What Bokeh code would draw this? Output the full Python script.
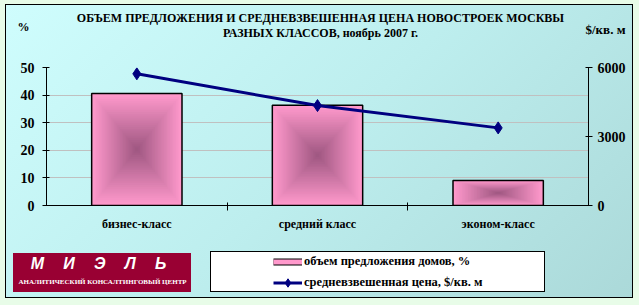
from bokeh.plotting import figure
from bokeh.layouts import column
from bokeh.models import Range1d, LinearAxis, FixedTicker, Legend, LegendItem, Label, Grid
from bokeh.embed import file_html
from bokeh.resources import INLINE

# ---------------- data ----------------
categories = ["бизнес-класс", "средний класс", "эконом-класс"]
supply_share = [40.6, 36.3, 9.1]          # объем предложения домов, %
avg_price = [5725, 4345, 3375]            # средневзвешенная цена, $/кв. м
left_ticks = [0, 10, 20, 30, 40, 50]
right_ticks = [0, 3000, 6000]
title_lines = ["ОБЪЕМ ПРЕДЛОЖЕНИЯ И СРЕДНЕВЗВЕШЕННАЯ ЦЕНА НОВОСТРОЕК МОСКВЫ",
               "РАЗНЫХ КЛАССОВ, ноябрь 2007 г."]
left_unit = "%"
right_unit = "$/кв. м"
series_names = ["объем предложения домов, %", "средневзвешенная цена, $/кв. м"]
logo_name = "М\u2003\u2009И\u2003\u2009Э\u2003\u2009Л\u2003\u2009Ь"
logo_sub = "АНАЛИТИЧЕСКИЙ КОНСАЛТИНГОВЫЙ ЦЕНТР"

# ---------------- layout ----------------
W = 639
H_MAIN, H_BOT = 245, 60
L, R, T, B = 46, 51, 67, 40
FONT = "Liberation Serif"
NAVY = "#000080"
PINK = "#ff99cc"


def page_background(dy):
    """CSS background of the whole 639x305 page, seen from an element that starts at page y=dy."""
    def at(x, y, w, h, img):
        return f"{img} {x}px {y - dy}px / {w}px {h}px no-repeat"
    return ", ".join([
        at(211, 252, 333, 39, "linear-gradient(#ffffff,#ffffff)"),
        at(210, 251, 335, 41, "linear-gradient(#000000,#000000)"),
        at(13, 253, 178, 39, "linear-gradient(#990033,#990033)"),
        at(6, 5, 626, 292, "linear-gradient(135deg, #cffdfd 0%, #bdeeee 50%, #abd9d9 100%)"),
        at(5, 4, 628, 294, "linear-gradient(#000000,#000000)"),
        "#e8fce8",
    ])


xs = [i + 0.5 for i in range(len(categories))]
bounds = [i for i in range(1, len(categories))]

p = figure(width=W, height=H_MAIN, output_backend="svg", toolbar_location=None,
           x_range=Range1d(0, len(categories)), y_range=Range1d(0, 50),
           x_axis_type=None, y_axis_type=None,
           min_border_left=L, min_border_right=R, min_border_top=T, min_border_bottom=B)
p.extra_y_ranges = {"price": Range1d(0, 6000)}
p.outline_line_color = None
p.border_fill_alpha = 0
p.background_fill_alpha = 0
p.styles = {"background": page_background(0)}


def style_axis(ax, size="14px"):
    ax.axis_line_color = "black"
    ax.major_tick_line_color = "black"
    ax.major_tick_in = 3
    ax.major_tick_out = 4
    ax.minor_tick_line_color = None
    ax.major_label_text_font = FONT
    ax.major_label_text_font_style = "bold"
    ax.major_label_text_font_size = size
    ax.major_label_text_color = "black"


yl = LinearAxis(ticker=FixedTicker(ticks=left_ticks))
style_axis(yl)
yl.major_label_standoff = 8
p.add_layout(yl, "left")

yr = LinearAxis(y_range_name="price", ticker=FixedTicker(ticks=right_ticks))
style_axis(yr)
yr.major_label_standoff = 5
p.add_layout(yr, "right")

xb = LinearAxis(ticker=FixedTicker(ticks=xs, minor_ticks=bounds),
                major_label_overrides={x: c for x, c in zip(xs, categories)})
style_axis(xb, "12px")
xb.major_tick_line_color = None
xb.minor_tick_line_color = "black"
xb.minor_tick_in = 3
xb.minor_tick_out = 5
xb.major_label_standoff = 6
p.add_layout(xb, "below")

p.add_layout(Grid(dimension=1, ticker=yl.ticker, grid_line_color="#c0c0c0", grid_line_width=1))

# ---------------- bars with centre gradient ----------------
edge = (255, 153, 204)
centre = (160, 88, 130)
N = 30
mids = [v / 2 for v in supply_share]
for k in range(N):
    f = 1 - k / N
    t = k / (N - 1)
    col = "#%02x%02x%02x" % tuple(int(round(e + (c - e) * t)) for e, c in zip(edge, centre))
    p.rect(x=xs, y=mids, width=0.5 * f, height=[v * f for v in supply_share],
           fill_color=col, line_color=None)
p.rect(x=xs, y=mids, width=0.5, height=supply_share,
       fill_color=None, line_color="black", line_width=1.5)

# ---------------- price line ----------------
p.line(xs, avg_price, y_range_name="price", line_color=NAVY, line_width=3)
p.scatter(xs, avg_price, y_range_name="price", marker="diamond", size=12,
          fill_color=NAVY, line_color=NAVY)


# ---------------- titles (canvas units, above panel) ----------------
def lab(fig, text, x, y, size, panel=None, align="center", color="black", font=FONT, style="bold"):
    lbl = Label(x=x, y=y, x_units="canvas", y_units="canvas", text=text,
                text_font=font, text_font_style=style, text_font_size=size,
                text_color=color, text_align=align, text_baseline="middle")
    if panel:
        fig.add_layout(lbl, panel)
    else:
        fig.add_layout(lbl)


lab(p, title_lines[0], 320, 17, "12px", "above")
lab(p, title_lines[1], 320, 32, "12px", "above")
lab(p, left_unit, 23, 26, "12px", "above")
lab(p, right_unit, 605, 29, "13px", "above")

# ---------------- bottom strip: legend and logo ----------------
q = figure(width=W, height=H_BOT, output_backend="svg", toolbar_location=None,
           x_range=Range1d(100, 101), y_range=Range1d(0, 1),
           x_axis_type=None, y_axis_type=None, min_border=0,
           min_border_left=0, min_border_right=0, min_border_top=0, min_border_bottom=0)
q.outline_line_color = None
q.border_fill_alpha = 0
q.background_fill_alpha = 0
q.styles = {"background": page_background(H_MAIN)}

# legend proxies (their data lies outside this strip's ranges, only legend glyphs show)
k_out = q.line(xs, supply_share, line_color="black", line_width=7)
k_in = q.line(xs, supply_share, line_color=PINK, line_width=5)
k_line = q.line(xs, avg_price, line_color=NAVY, line_width=3)
k_pts = q.scatter(xs, avg_price, marker="diamond", fill_color=NAVY, line_color=NAVY)

legend = Legend(items=[LegendItem(label=series_names[0], renderers=[k_out, k_in]),
                       LegendItem(label=series_names[1], renderers=[k_line, k_pts])],
                location=(273, 12), orientation="vertical",
                background_fill_alpha=0, border_line_color=None, padding=0, margin=0,
                spacing=0, glyph_width=29, glyph_height=21, label_height=21, label_standoff=2,
                label_text_font=FONT, label_text_font_style="bold",
                label_text_font_size="12.5px", label_text_color="black")
q.add_layout(legend)

lab(q, logo_name, 98, 263 - H_MAIN, "16px", color="white", font="Liberation Sans", style="bold italic")
lab(q, logo_sub, 102, 281 - H_MAIN, "7px", color="white")

open("out.html", "w").write(file_html([column(p), column(q)], INLINE))
